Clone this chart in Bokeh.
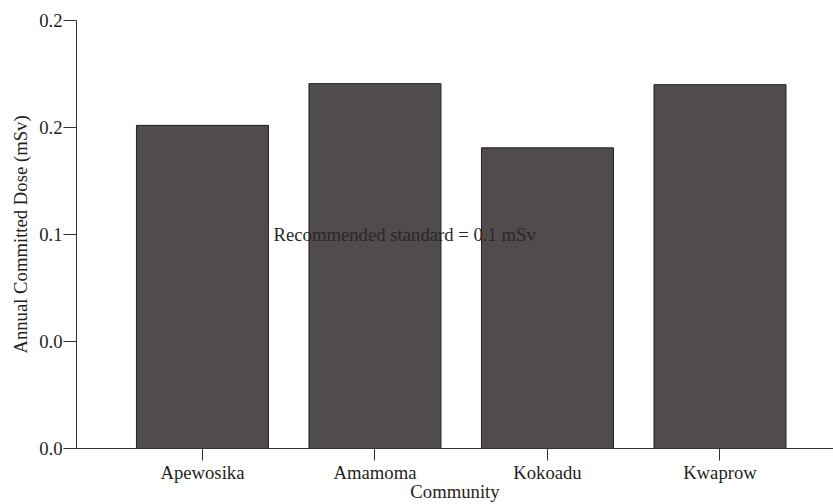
from bokeh.plotting import figure
from bokeh.models import ColumnDataSource, FixedTicker, Range1d
from bokeh.core.properties import value
from bokeh.embed import file_html
from bokeh.resources import INLINE

communities = ["Apewosika", "Amamoma", "Kokoadu", "Kwaprow"]
dose = [0.151, 0.1705, 0.1405, 0.170]
y_ticks = [0.0, 0.05, 0.1, 0.15, 0.2]
y_tick_labels = ["0.0", "0.0", "0.1", "0.2", "0.2"]
annotation = "Recommended standard = 0.1 mSv"
annotation_y = 0.1
x_title = "Community"
y_title = "Annual Committed Dose (mSv)"

FONT = "Liberation Serif"
FS = "18.7px"
TXT = "#231f20"

xs = list(range(len(communities)))
src = ColumnDataSource(dict(x=xs, top=dose, name=communities))

p = figure(width=833, height=504, output_backend="svg", toolbar_location=None,
           x_range=Range1d(-0.730, 3.658), y_range=Range1d(0, 0.2),
           min_border_left=76, min_border_top=20, min_border_right=0, min_border_bottom=56)
p.outline_line_color = None
p.xgrid.visible = False
p.ygrid.visible = False

p.vbar(x="x", top="top", bottom=0, width=0.765, source=src,
       fill_color="#504c4b", line_color="#231f20", line_width=1)

p.text(x=[0.412], y=[annotation_y], text=[annotation], text_font=value(FONT),
       text_font_size=FS, text_color="#2b2728", text_align="left",
       text_baseline="alphabetic")

# axes
p.xaxis.ticker = FixedTicker(ticks=xs)
p.xaxis.major_label_overrides = {i: c for i, c in zip(xs, communities)}
p.yaxis.ticker = FixedTicker(ticks=y_ticks)
p.yaxis.major_label_overrides = {t: l for t, l in zip(y_ticks, y_tick_labels)}

for ax in (p.xaxis[0], p.yaxis[0]):
    ax.axis_line_color = "#333333"
    ax.major_tick_line_color = "#333333"
    ax.major_tick_in = 0
    ax.minor_tick_line_color = None
    ax.major_label_text_font = FONT
    ax.major_label_text_font_size = FS
    ax.major_label_text_color = TXT
    ax.axis_label_text_font = FONT
    ax.axis_label_text_font_size = FS
    ax.axis_label_text_font_style = "normal"
    ax.axis_label_text_color = TXT

p.xaxis.major_tick_out = 12
p.xaxis.major_label_standoff = 1
p.xaxis.axis_label = x_title
p.xaxis.axis_label_standoff = -5

p.yaxis.major_tick_out = 13
p.yaxis.major_label_standoff = 1
p.yaxis.axis_label = y_title
p.yaxis.axis_label_standoff = 5

open("out.html", "w").write(file_html(p, INLINE))
